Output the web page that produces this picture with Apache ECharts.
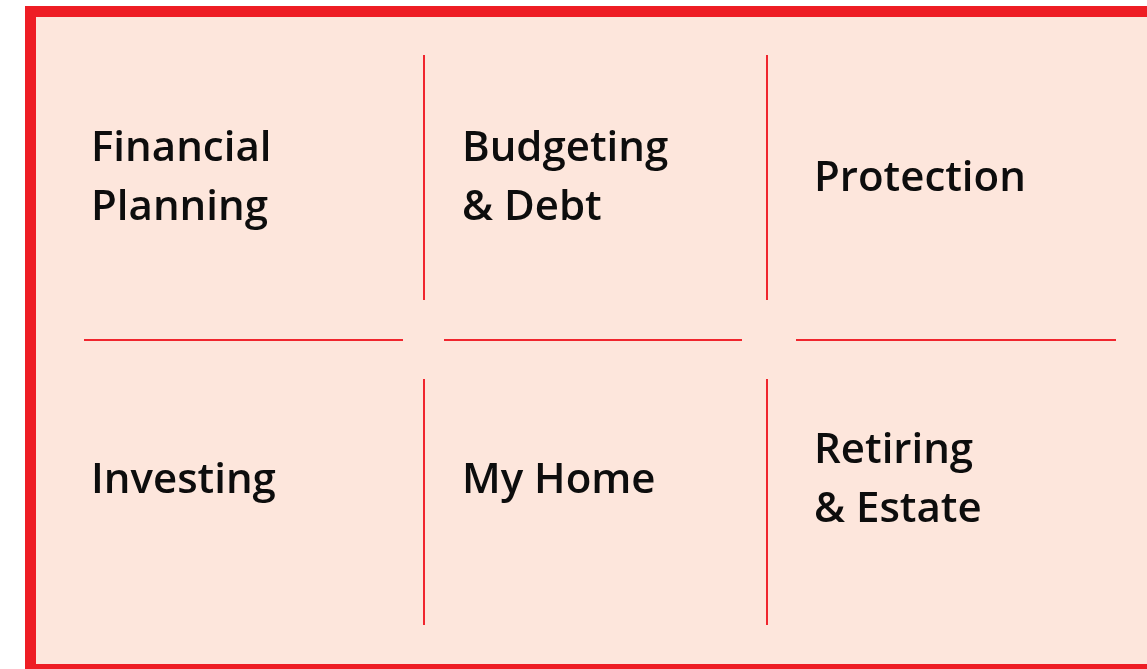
<!DOCTYPE html>
<html>
<head>
<meta charset="utf-8">
<script src="https://cdn.jsdelivr.net/npm/echarts@6/dist/echarts.min.js"></script>
<style>
html,body{margin:0;padding:0;background:#ffffff;}
#main{width:1147px;height:669px;}
</style>
</head>
<body>
<div id="main"></div>
<script>
// Data
const labels = ['Financial\nPlanning', 'Budgeting\n& Debt', 'Protection', 'Investing', 'My Home', 'Retiring\n& Estate'];
const cols = [0, 1, 2, 0, 1, 2];
const rows = [0, 0, 0, 1, 1, 1];
const nCols = 3;
const nRows = 2;

const RED = '#EE1D24';
const FILL = '#FDE6DC';

const padX = [10, 38, 47];
const padY = [124, 141];
const hGap = [[3, -21], [20, -25], [29, 6]];
const vGap = [[0, -40], [39, 0]];

const textData = labels.map((l, i) => [cols[i], rows[i], l]);
const lineData = [];
for (let r = 0; r < nRows; r++) for (let b = 1; b < nCols; b++) lineData.push(['v', b, r]);
for (let b = 1; b < nRows; b++) for (let c = 0; c < nCols; c++) lineData.push(['h', c, b]);

const chart = echarts.init(document.getElementById('main'), null, {renderer: 'canvas'});
chart.setOption({
  backgroundColor: '#ffffff',
  animation: false,
  graphic: [{
    type: 'rect', z: -10,
    shape: {x: 30.5, y: 11.5, width: 1124, height: 658},
    style: {fill: FILL, stroke: RED, lineWidth: 11}
  }],
  grid: {left: 81, top: 55, width: 1029, height: 570, containLabel: false},
  xAxis: {type: 'value', min: 0, max: nCols, show: false},
  yAxis: {type: 'value', min: 0, max: nRows, inverse: true, show: false},
  series: [{
    type: 'custom',
    data: lineData,
    encode: {x: 1, y: 2},
    renderItem: function (params, api) {
      const kind = lineData[params.dataIndex][0];
      const a = api.value(1), b = api.value(2);
      let x1, y1, x2, y2;
      if (kind === 'v') {
        const top = api.coord([a, b]);
        const bot = api.coord([a, b + 1]);
        x1 = x2 = Math.round(top[0]);
        y1 = top[1] + vGap[b][0];
        y2 = bot[1] + vGap[b][1];
      } else {
        const l = api.coord([a, b]);
        const r = api.coord([a + 1, b]);
        y1 = y2 = Math.round(l[1]);
        x1 = l[0] + hGap[a][0];
        x2 = r[0] + hGap[a][1];
      }
      return {type: 'line', shape: {x1, y1, x2, y2}, style: {stroke: '#F0262E', lineWidth: 2}};
    }
  }, {
    type: 'custom',
    data: textData,
    encode: {x: 0, y: 1},
    renderItem: function (params, api) {
      const c = api.value(0), r = api.value(1);
      const p = api.coord([c, r]);
      return {
        type: 'text',
        style: {
          x: p[0] + padX[c], y: p[1] + padY[r],
          text: textData[params.dataIndex][2],
          fill: '#0d0d0d',
          font: '600 42px "Open Sans"',
          lineHeight: 59,
          align: 'left', verticalAlign: 'middle'
        }
      };
    }
  }]
});
</script>
</body>
</html>
